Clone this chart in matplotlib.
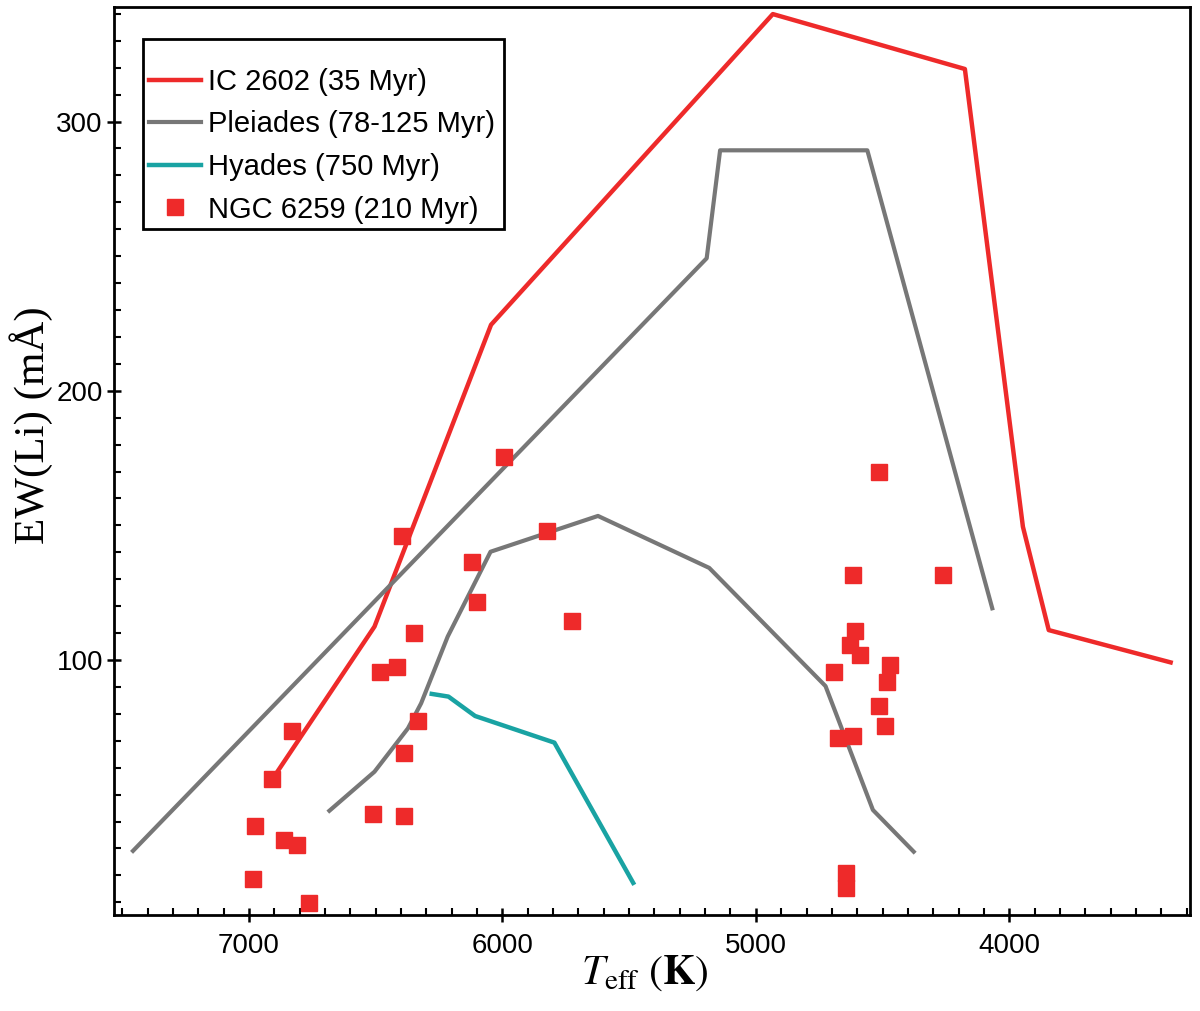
import numpy as np
import matplotlib
matplotlib.use("Agg")
import matplotlib.pyplot as plt
from matplotlib.ticker import MultipleLocator
from matplotlib.patches import Rectangle

plt.rcParams['font.family'] = ['Liberation Sans', 'DejaVu Sans']
plt.rcParams['mathtext.fontset'] = 'stix'

# IC 2602 (35 Myr) upper envelope
ic_teff = [6889, 6505, 6045, 4933, 4175, 3946, 3844, 3363]
ic_ew = [58.4, 112.4, 224.5, 339.9, 319.5, 149.5, 111.1, 99.1]

# Pleiades (78-125 Myr) upper envelope
ple_up_teff = [7458, 5194, 5141, 4560, 4067]
ple_up_ew = [29.1, 249.2, 289.3, 289.3, 119.2]

# Pleiades lower envelope
ple_lo_teff = [6683, 6505, 6373, 6321, 6216, 6047, 5623, 5184, 4725, 4538, 4377]
ple_lo_ew = [44.0, 58.5, 74.6, 83.9, 108.7, 140.2, 153.5, 134.2, 90.3, 44.3, 28.8]

# Hyades (750 Myr)
hya_teff = [6279, 6213, 6108, 5795, 5484]
hya_ew = [87.4, 86.4, 79.2, 69.3, 17.2]

# NGC 6259 (210 Myr) stars
ngc_teff = [5992, 6396, 5824, 6120, 6100, 5725, 6350, 6484, 6417, 6830,
            6332, 6389, 6909, 6512, 6389, 6975, 6861, 6812, 6985, 6764,
            4512, 4617, 4260, 4608, 4627, 4588, 4693, 4472, 4482, 4512,
            4492, 4676, 4617, 4646, 4646]
ngc_ew = [175.3, 146.2, 148.0, 136.3, 121.6, 114.5, 109.9, 95.4, 97.3, 73.7,
          77.3, 65.6, 55.7, 42.8, 42.1, 38.4, 33.2, 31.2, 18.6, 9.7,
          169.7, 131.7, 131.7, 110.9, 105.6, 101.9, 95.4, 98.1, 91.9, 82.9,
          75.6, 71.1, 71.9, 20.8, 15.2]

RED = "#ee2a2a"
GRAY = "#777777"
TEAL = "#19a3a3"

fig = plt.figure(figsize=(12, 10.11), dpi=100)
ax = fig.add_axes([0.095, 0.095, 0.897, 0.898])

ax.plot(ic_teff, ic_ew, color=RED, lw=3.2, label="IC 2602 (35 Myr)")
ax.plot(ple_up_teff, ple_up_ew, color=GRAY, lw=3, label="Pleiades (78-125 Myr)")
ax.plot(ple_lo_teff, ple_lo_ew, color=GRAY, lw=3)
ax.plot(hya_teff, hya_ew, color=TEAL, lw=3.2, label="Hyades (750 Myr)")
ax.plot(ngc_teff, ngc_ew, ls="none", marker="s", ms=12, color=RED,
        mec=RED, label="NGC 6259 (210 Myr)")

ax.set_xlim(7533, 3285)
ax.set_ylim(5.3, 342.5)

ax.xaxis.set_major_locator(MultipleLocator(1000))
ax.xaxis.set_minor_locator(MultipleLocator(100))
ax.yaxis.set_major_locator(MultipleLocator(100))
ax.yaxis.set_minor_locator(MultipleLocator(10))
ax.tick_params(which="major", direction="inout", length=10, width=1.8,
               labelsize=20, pad=8)
ax.tick_params(axis="y", which="major", pad=3)
ax.tick_params(which="minor", direction="in", length=5, width=1.5)
for s in ax.spines.values():
    s.set_linewidth(2)

ax.set_xlabel(r"$T_{\rm eff}\ (\mathbf{K})$", fontsize=30)
ax.xaxis.set_label_coords(0.4935, -0.042)
ax.set_ylabel("EW(Li) (mÅ)", fontsize=31, family="Liberation Serif")
ax.yaxis.set_label_coords(-0.057, 0.54)

# legend box drawn by hand, legend itself unframed
ax.add_patch(Rectangle((0.027, 0.7555), 0.3355, 0.2093, transform=ax.transAxes,
                       fill=False, ec="black", lw=2, zorder=5))
leg = ax.legend(loc="upper left", bbox_to_anchor=(0.0325, 0.933), fontsize=21,
                frameon=False, numpoints=1, handlelength=1.78,
                handletextpad=0.24, labelspacing=0.5, borderpad=0,
                borderaxespad=0)

fig.savefig("out.png", dpi=100)
